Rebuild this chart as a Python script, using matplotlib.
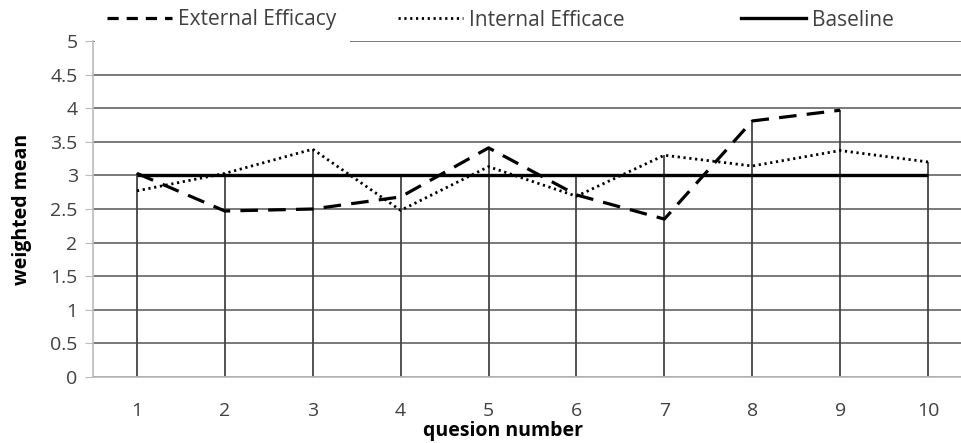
import numpy as np
import matplotlib.pyplot as plt
from matplotlib.patches import Rectangle
from matplotlib.lines import Line2D

plt.rcParams['font.family'] = ['Open Sans', 'DejaVu Sans']

questions = [1, 2, 3, 4, 5, 6, 7, 8, 9, 10]
external = [3.03, 2.47, 2.50, 2.68, 3.41, 2.71, 2.35, 3.81, 3.97]
internal = [2.77, 3.03, 3.39, 2.48, 3.13, 2.69, 3.30, 3.14, 3.37, 3.20]
baseline = [3, 3, 3, 3, 3, 3, 3, 3, 3, 3]
yticks = [0, 0.5, 1, 1.5, 2, 2.5, 3, 3.5, 4, 4.5, 5]

fig = plt.figure(figsize=(9.61, 4.43), dpi=100)
# plot area runs a little past the right edge of the figure
ax = fig.add_axes([93 / 961, 1 - 377 / 443, (972 - 93) / 961, (377 - 41) / 443])

ax.set_xlim(0.5, 10.5)
ax.set_ylim(0, 5)
ax.set_yticks(yticks)
ax.set_yticklabels([f'{t:g}' for t in yticks])
ax.set_xticks(questions)

ax.grid(axis='y', color='#555555', lw=1.1, zorder=0)
ax.set_axisbelow(True)

# drop lines from the axis up to the highest series at each question
tops = []
for i, q in enumerate(questions):
    vals = [internal[i], baseline[i]]
    if i < len(external):
        vals.append(external[i])
    tops.append(max(vals))
ax.vlines(questions, 0, tops, color='#444444', lw=1.3, zorder=1)

ax.plot(questions, baseline, color='black', lw=2.4, solid_capstyle='butt', zorder=3)
ax.plot(questions[:len(external)], external, color='black', lw=2.3,
        dashes=(5.5, 3.2), zorder=4)
ax.plot(questions, internal, color='black', lw=2.0,
        dashes=(0.8, 1.3), zorder=4)

for s in ['top', 'right']:
    ax.spines[s].set_visible(False)
for s in ['left', 'bottom']:
    ax.spines[s].set_color('#bbbbbb')
    ax.spines[s].set_linewidth(1.2)

ax.tick_params(axis='y', length=6, color='#bbbbbb', labelsize=14,
               labelcolor='#404040', pad=5)
ax.tick_params(axis='x', length=0, labelsize=14, labelcolor='#404040', pad=18)

ax.set_ylabel('weighted mean', fontsize=14, fontweight='bold', color='black',
              va='center')
ax.yaxis.set_label_coords(-0.081, 0.5)
ax.set_xlabel('quesion number', fontsize=14, fontweight='bold', color='black',
              va='center')
ax.xaxis.set_label_coords(0.466, -0.16)

# legend sits over the left end of the top gridline
ax.add_patch(Rectangle((0.52, 4.96), 2.9, 0.09, facecolor='white',
                       edgecolor='none', clip_on=False, zorder=2))

entries = [
    (Line2D([], [], color='black', lw=2.3, dashes=(3.5, 2.5)), 'External Efficacy', 107),
    (Line2D([], [], color='black', lw=2.0, dashes=(0.8, 1.3)), 'Internal Efficace', 398),
    (Line2D([], [], color='black', lw=2.4), 'Baseline', 741),
]
for handle, label, px in entries:
    leg = fig.legend([handle], [label], loc='center left',
                     bbox_to_anchor=(px / 961, 1 - 20 / 443),
                     frameon=False, fontsize=15, handlelength=3.1,
                     handletextpad=0.3, borderpad=0, borderaxespad=0,
                     labelcolor='#404040')

fig.savefig('out.png', dpi=100)
